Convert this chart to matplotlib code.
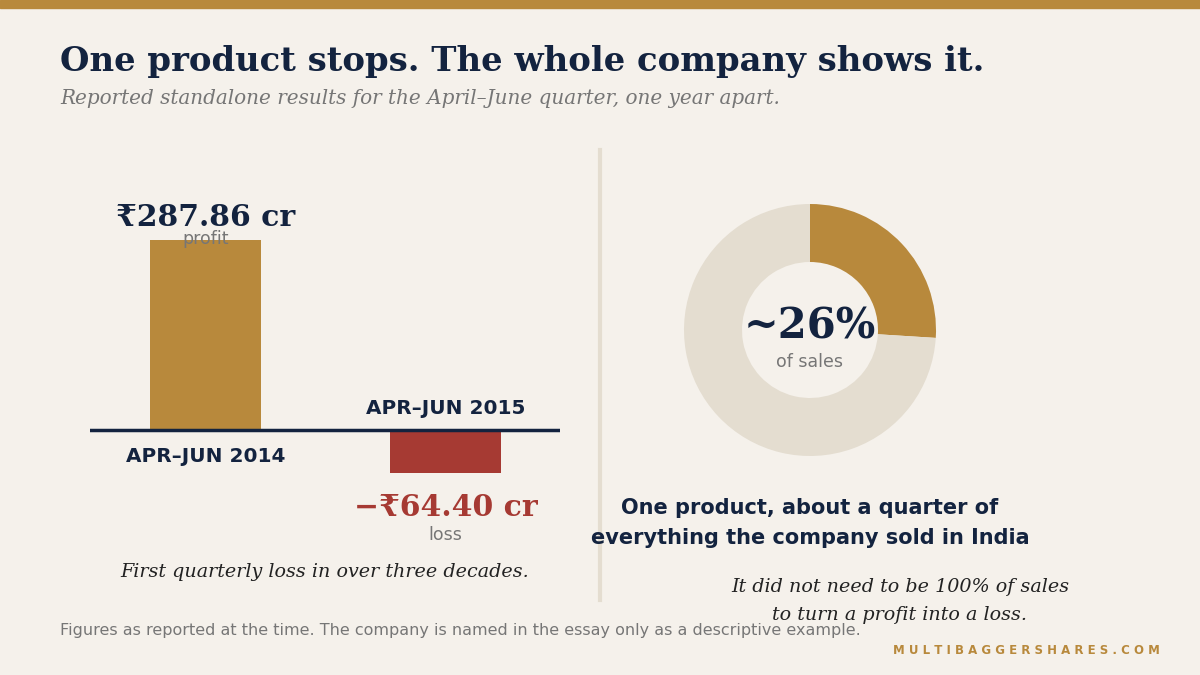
import numpy as np
import matplotlib.pyplot as plt
from matplotlib.patches import Rectangle

# data
periods = ["APR–JUN 2014", "APR–JUN 2015"]
profits = [287.86, -64.40]          # ₹ crore, standalone
value_labels = ["₹287.86 cr", "−₹64.40 cr"]
value_notes = ["profit", "loss"]
product_share = 26                  # % of sales

BG = "#f5f1eb"
GOLD = "#b8893c"
NAVY = "#13233f"
RED = "#a63a33"
BEIGE = "#e4ddd0"
GRAY = "#767676"

W, H = 1200, 675
fig = plt.figure(figsize=(12, 6.75), dpi=100, facecolor=BG)

def px(x, y):
    # pixel coords (top-left origin) -> figure fraction
    return x / W, 1 - y / H

def put(x, y, s, **kw):
    fx, fy = px(x, y)
    fig.text(fx, fy, s, **kw)

# gold band at top
fig.patches.append(Rectangle((0, 1 - 8 / H), 1, 8 / H, transform=fig.transFigure,
                             color=GOLD, zorder=0))

put(60, 62, "One product stops. The whole company shows it.", family="DejaVu Serif",
    weight="bold", size=24.4, color=NAVY, va="center")
put(60, 99, "Reported standalone results for the April–June quarter, one year apart.",
    family="DejaVu Serif", style="italic", size=14.4, color=GRAY, va="center")

# ── bar panel ───────────────────────────────────────────
ax_l, ax_r, ax_t, ax_b = 90, 560, 150, 560
ax = fig.add_axes([ax_l / W, 1 - ax_b / H, (ax_r - ax_l) / W, (ax_b - ax_t) / H])
ax.set_facecolor("none")
scale = 190 / 287.86   # px per crore
ax.set_ylim(-(ax_b - 430) / scale, (430 - ax_t) / scale)
ax.set_xlim(-115.5 / 240, 1 + 114.5 / 240)
x = np.arange(len(profits))
colors = [GOLD if v >= 0 else RED for v in profits]
ax.bar(x, profits, width=111 / 240, color=colors, zorder=2)
ax.axhline(0, color=NAVY, lw=2.5, zorder=3)
ax.axis("off")

for i, v in enumerate(profits):
    if v >= 0:
        ax.annotate(value_labels[i], (x[i], v), xytext=(0, 8), textcoords="offset pixels",
                    ha="center", va="bottom", family="DejaVu Serif", weight="bold",
                    size=21.5, color=NAVY)
        ax.annotate(value_notes[i], (x[i], v), xytext=(0, 1), textcoords="offset pixels",
                    ha="center", va="center", size=12.5, color=GRAY, zorder=4)
        ax.annotate(periods[i], (x[i], 0), xytext=(0, -27), textcoords="offset pixels",
                    ha="center", va="center", weight="bold", size=14.4, color=NAVY)
    else:
        ax.annotate(periods[i], (x[i], 0), xytext=(0, 21), textcoords="offset pixels",
                    ha="center", va="center", weight="bold", size=14.4, color=NAVY)
        ax.annotate(value_labels[i], (x[i], v), xytext=(0, -35), textcoords="offset pixels",
                    ha="center", va="center", family="DejaVu Serif", weight="bold",
                    size=21.5, color=RED)
        ax.annotate(value_notes[i], (x[i], v), xytext=(0, -62), textcoords="offset pixels",
                    ha="center", va="center", size=12.5, color=GRAY)

put(325, 572, "First quarterly loss in over three decades.", family="DejaVu Serif",
    style="italic", size=13.8, color="#222222", ha="center", va="center")

# divider
fig.add_artist(plt.Line2D([600 / W, 600 / W], [1 - 150 / H, 1 - 600 / H],
                          transform=fig.transFigure, color=BEIGE, lw=3))

# ── donut panel ─────────────────────────────────────────
R = 126
dx = fig.add_axes([(810 - R) / W, 1 - (330 + R) / H, 2 * R / W, 2 * R / H])
dx.set_facecolor("none")
dx.pie([product_share, 100 - product_share], colors=[GOLD, BEIGE], startangle=90,
       counterclock=False, radius=1, wedgeprops=dict(width=58 / R, linewidth=0))
dx.set_xlim(-1, 1)
dx.set_ylim(-1, 1)
dx.set_aspect("equal")
dx.axis("off")

put(810, 326, f"~{product_share}%", family="DejaVu Serif", weight="bold", size=30,
    color=NAVY, ha="center", va="center")
put(810, 362, "of sales", size=12.5, color=GRAY, ha="center", va="center")

put(810, 523, "One product, about a quarter of\neverything the company sold in India",
    weight="bold", size=15, color=NAVY, ha="center", va="center", linespacing=1.6)
put(900, 601, "It did not need to be 100% of sales\nto turn a profit into a loss.",
    family="DejaVu Serif", style="italic", size=13.8, color="#222222", ha="center",
    va="center", linespacing=1.7)

# footer
put(60, 630, "Figures as reported at the time. The company is named in the essay only as a descriptive example.",
    size=11.5, color=GRAY, va="center")
put(1160, 650, " ".join("MULTIBAGGERSHARES.COM"), weight="bold", size=8.5, color=GOLD,
    ha="right", va="center")

fig.savefig("out.png", dpi=100, facecolor=BG)
